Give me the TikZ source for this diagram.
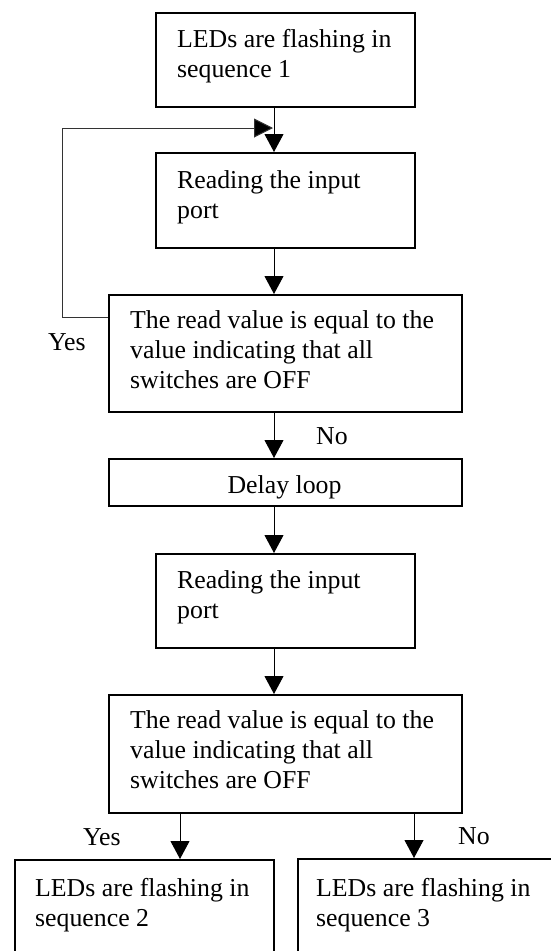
\documentclass[tikz,border=0pt]{standalone}
\usepackage{fontspec}
\setmainfont{Liberation Serif}
\usetikzlibrary{arrows.meta}
\begin{document}
\begin{tikzpicture}[x=1pt,y=-1pt,
  box/.style={draw=black,line width=2pt,rectangle,inner sep=0pt,anchor=north west},
  txt/.style={inner sep=0pt,anchor=base west,font=\fontsize{25.8pt}{30pt}\selectfont},
  arr/.style={line width=1pt,-{Triangle[length=18pt,width=19pt]}},
  loopline/.style={line width=1pt,draw=black!80,-{Triangle[length=19pt,width=19pt,fill=black]}}]
\useasboundingbox (0,0) rectangle (551,951);
\clip (0,0) rectangle (551,951);
% boxes
\node[box,minimum width=259pt,minimum height=94pt] (b1) at (155,12) {};
\node[box,minimum width=259pt,minimum height=95pt] (b2) at (155,152) {};
\node[box,minimum width=353pt,minimum height=117pt] (d1) at (108,294) {};
\node[box,minimum width=353pt,minimum height=47pt] (dl) at (108,458) {};
\node[box,minimum width=259pt,minimum height=94pt] (b3) at (155,553) {};
\node[box,minimum width=353pt,minimum height=118pt] (d2) at (108,694) {};
\node[box,minimum width=259pt,minimum height=130pt] (s2) at (14,859) {};
\node[box,minimum width=300pt,minimum height=130pt] (s3) at (297,858) {};
% texts
\node[txt] (t1) at (177,47) {\parbox[t]{240pt}{LEDs are flashing in\\sequence 1}};
\node[txt] (t2) at (177,188) {\parbox[t]{230pt}{Reading the input\\port}};
\node[txt] (t3) at (130,328) {\parbox[t]{325pt}{The read value is equal to the\\value indicating that all\\switches are OFF}};
\node[txt,anchor=base] (t4) at (284.5,493) {Delay loop};
\node[txt] (t5) at (177,588) {\parbox[t]{230pt}{Reading the input\\port}};
\node[txt] (t6) at (130,728) {\parbox[t]{325pt}{The read value is equal to the\\value indicating that all\\switches are OFF}};
\node[txt] (t7) at (35,896) {\parbox[t]{235pt}{LEDs are flashing in\\sequence 2}};
\node[txt] (t8) at (316,896) {\parbox[t]{235pt}{LEDs are flashing in\\sequence 3}};
% labels
\node[txt] (yes1) at (48,350) {Yes};
\node[txt] (no1) at (316,444) {No};
\node[txt] (yes2) at (83,845) {Yes};
\node[txt] (no2) at (458,844) {No};
% connector columns
\coordinate (ax) at (274,0);
\coordinate (yx) at (180,0);
\coordinate (nx) at (414,0);
\draw[arr] (b1.south -| ax) -- (b2.north -| ax);
\draw[arr] (b2.south -| ax) -- (d1.north -| ax);
\draw[arr] (d1.south -| ax) -- (dl.north -| ax);
\draw[arr] (dl.south -| ax) -- (b3.north -| ax);
\draw[arr] (b3.south -| ax) -- (d2.north -| ax);
\draw[arr] (d2.south -| yx) -- (s2.north -| yx);
\draw[arr] (d2.south -| nx) -- (s3.north -| nx);
% loop back
\coordinate (lpA) at (62,317);
\coordinate (lpB) at (62,128);
\coordinate (lpC) at (273,128);
\draw[loopline] (d1.west |- lpA) -- (lpA) -- (lpB) -- (lpC);
\end{tikzpicture}
\end{document}
